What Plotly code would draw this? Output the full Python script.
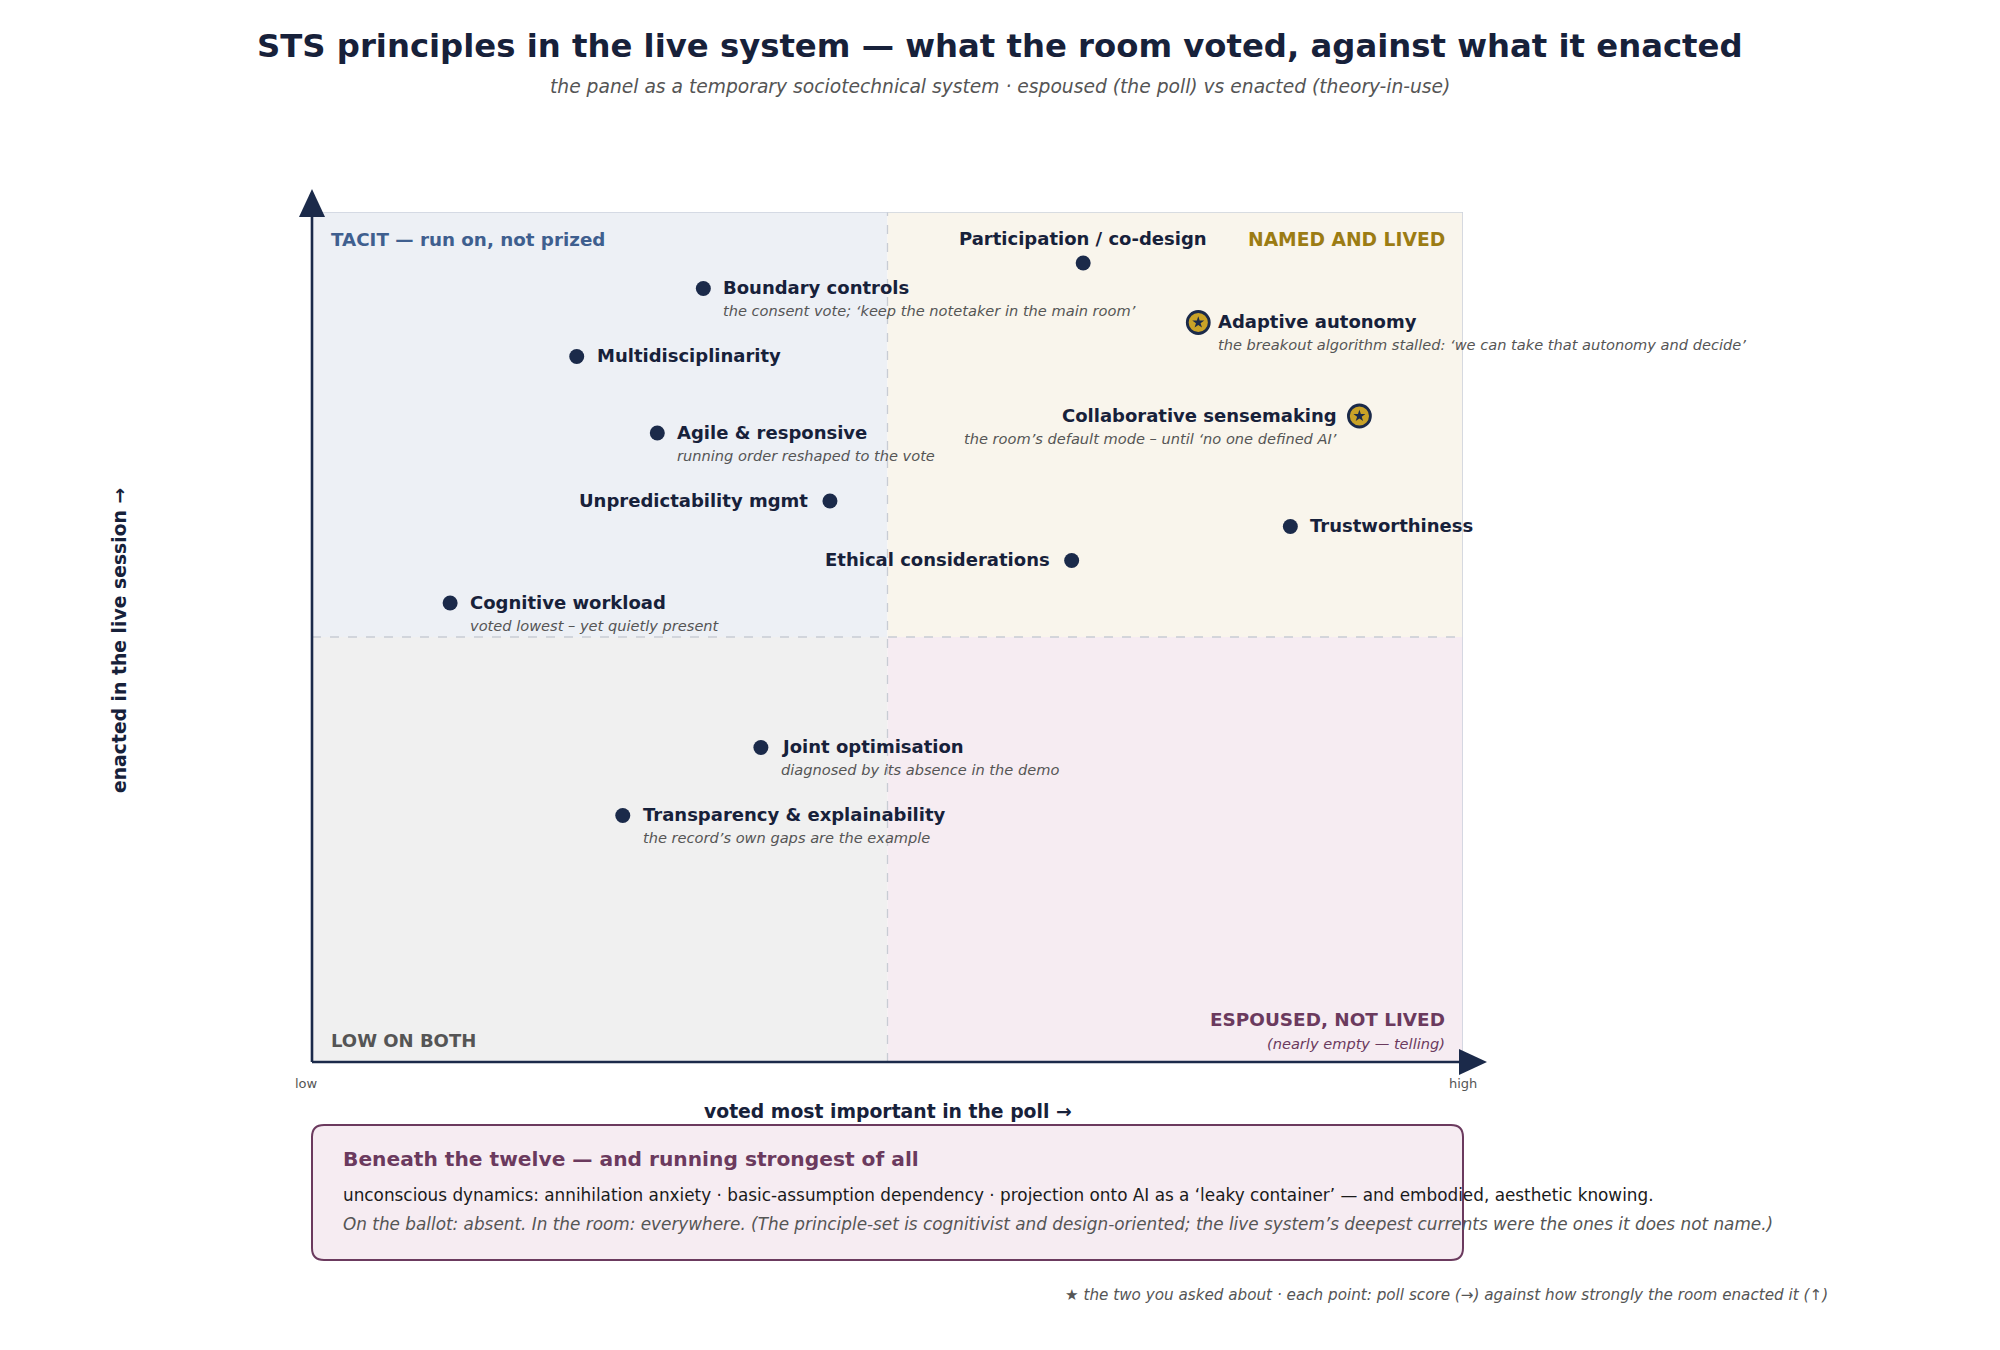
import plotly.graph_objects as go

# ---------------- data ----------------
principles = [
    "Participation / co-design", "Boundary controls", "Adaptive autonomy",
    "Multidisciplinarity", "Collaborative sensemaking", "Agile & responsive",
    "Unpredictability mgmt", "Trustworthiness", "Ethical considerations",
    "Cognitive workload", "Joint optimisation", "Transparency & explainability",
]
poll_score = [6.7, 3.4, 7.7, 2.3, 9.1, 3.0, 4.5, 8.5, 6.6, 1.2, 3.9, 2.7]
enacted_score = [9.4, 9.1, 8.7, 8.3, 7.6, 7.4, 6.6, 6.3, 5.9, 5.4, 3.7, 2.9]
notes = [
    "",
    "the consent vote; ‘keep the notetaker in the main room’",
    "the breakout algorithm stalled: ‘we can take that autonomy and decide’",
    "",
    "the room’s default mode – until ‘no one defined AI’",
    "running order reshaped to the vote",
    "",
    "",
    "",
    "voted lowest – yet quietly present",
    "diagnosed by its absence in the demo",
    "the record’s own gaps are the example",
]
label_side = ["above", "right", "right", "right", "left", "right",
              "left", "right", "left", "right", "right", "right"]
asked_about = [False, False, True, False, True, False,
               False, False, False, False, False, False]

quadrant_labels = ["TACIT — run on, not prized", "NAMED AND LIVED",
                   "LOW ON BOTH", "ESPOUSED, NOT LIVED"]
axis_end_labels = ["low", "high"]

# ---------------- style ----------------
FONT = "DejaVu Sans"
NAVY = "#1b2a4a"
INK = "#17213a"
GREY = "#555555"
GOLD = "#c9a227"
PURPLE = "#6b3a5e"

W, H = 2000, 1350
L, R, T, B = 312, 1463, 212, 1062  # plot area in px


def px_x(p):
    return (p - L) / (R - L)


def px_y(p):
    return (B - p) / (B - T)


fig = go.Figure()

# quadrant fills
quad_fill = [("#edf0f5", 0, 5, 5, 10), ("#f9f5ec", 5, 10, 5, 10),
             ("#f0f0f0", 0, 5, 0, 5), ("#f6ecf2", 5, 10, 0, 5)]
for col, x0, x1, y0, y1 in quad_fill:
    fig.add_shape(type="rect", x0=x0, x1=x1, y0=y0, y1=y1, xref="x", yref="y",
                  fillcolor=col, line=dict(width=0), layer="below")

# midlines
fig.add_shape(type="line", x0=5, x1=5, y0=0, y1=10, xref="x", yref="y",
              line=dict(color="#c8ccd4", width=1.3, dash="dash"), layer="below")
fig.add_shape(type="line", x0=0, x1=10, y0=5, y1=5, xref="x", yref="y",
              line=dict(color="#c8ccd4", width=1.3, dash="dash"), layer="below")

# top/right frame
fig.add_shape(type="line", x0=0, x1=10, y0=10, y1=10, xref="x", yref="y",
              line=dict(color="#cdd3de", width=1.6))
fig.add_shape(type="line", x0=10, x1=10, y0=0, y1=10, xref="x", yref="y",
              line=dict(color="#cdd3de", width=1.6))

# axes with arrowheads (paper coords so they are not clipped)
fig.add_shape(type="line", x0=0, x1=0, y0=0, y1=px_y(214), xref="paper", yref="paper",
              line=dict(color=NAVY, width=2.6))
fig.add_shape(type="line", x0=0, x1=px_x(1462), y0=0, y1=0, xref="paper", yref="paper",
              line=dict(color=NAVY, width=2.6))
up = (f"M {px_x(299)} {px_y(217)} L {px_x(325)} {px_y(217)} "
      f"L {px_x(312)} {px_y(189)} Z")
rt = (f"M {px_x(1459)} {px_y(1049)} L {px_x(1459)} {px_y(1075)} "
      f"L {px_x(1487)} {px_y(1062)} Z")
for p in (up, rt):
    fig.add_shape(type="path", xref="paper", yref="paper", path=p,
                  fillcolor=NAVY, line=dict(width=0))

# points
plain_x = [x for x, s in zip(poll_score, asked_about) if not s]
plain_y = [y for y, s in zip(enacted_score, asked_about) if not s]
star_x = [x for x, s in zip(poll_score, asked_about) if s]
star_y = [y for y, s in zip(enacted_score, asked_about) if s]

fig.add_trace(go.Scatter(x=plain_x, y=plain_y, mode="markers",
                         marker=dict(size=15, color=NAVY, line=dict(width=0)),
                         hoverinfo="skip"))
fig.add_trace(go.Scatter(x=star_x, y=star_y, mode="markers",
                         marker=dict(size=22, color=GOLD, line=dict(width=2.8, color=NAVY)),
                         hoverinfo="skip"))
fig.add_trace(go.Scatter(x=star_x, y=star_y, mode="markers",
                         marker=dict(size=9, color=NAVY, symbol="star", line=dict(width=0)),
                         hoverinfo="skip"))

ann = []
for name, x, y, note, side in zip(principles, poll_score, enacted_score, notes, label_side):
    if side == "above":
        ann.append(dict(x=x, y=y, xref="x", yref="y", text=name, showarrow=False,
                        xanchor="center", yanchor="middle", yshift=25,
                        font=dict(family=FONT, size=18, color=INK, weight="bold")))
        continue
    anchor = "left" if side == "right" else "right"
    shift = 18 if side == "right" else -20
    ann.append(dict(x=x, y=y, xref="x", yref="y", text=name, showarrow=False,
                    xanchor=anchor, yanchor="middle", xshift=shift, yshift=1,
                    font=dict(family=FONT, size=18, color=INK, weight="bold")))
    if note:
        ann.append(dict(x=x, y=y, xref="x", yref="y", text=note, showarrow=False,
                        xanchor=anchor, yanchor="middle", xshift=shift, yshift=-22,
                        font=dict(family=FONT, size=14.6, color=GREY, style="italic")))

# quadrant labels
qcols = ["#3f5f8f", "#9c7c14", "#555555", PURPLE]
ann.append(dict(x=0, y=10, xref="x", yref="y", text=quadrant_labels[0], showarrow=False,
                xanchor="left", yanchor="middle", xshift=17, yshift=-27,
                font=dict(family=FONT, size=18.3, color=qcols[0], weight="bold")))
ann.append(dict(x=10, y=10, xref="x", yref="y", text=quadrant_labels[1], showarrow=False,
                xanchor="right", yanchor="middle", xshift=-16, yshift=-27,
                font=dict(family=FONT, size=18.7, color=qcols[1], weight="bold")))
ann.append(dict(x=0, y=0, xref="x", yref="y", text=quadrant_labels[2], showarrow=False,
                xanchor="left", yanchor="middle", xshift=17, yshift=22,
                font=dict(family=FONT, size=18, color=qcols[2], weight="bold")))
ann.append(dict(x=10, y=0, xref="x", yref="y", text=quadrant_labels[3], showarrow=False,
                xanchor="right", yanchor="middle", xshift=-16, yshift=43,
                font=dict(family=FONT, size=18.4, color=qcols[3], weight="bold")))
ann.append(dict(x=10, y=0, xref="x", yref="y", text="(nearly empty — telling)", showarrow=False,
                xanchor="right", yanchor="middle", xshift=-16, yshift=19,
                font=dict(family=FONT, size=14.6, color=qcols[3], style="italic")))

# axis end labels and titles
ann.append(dict(x=0, y=0, xref="x", yref="y", text=axis_end_labels[0], showarrow=False,
                xanchor="center", yanchor="middle", xshift=-6, yshift=-21,
                font=dict(family=FONT, size=13, color=GREY)))
ann.append(dict(x=10, y=0, xref="x", yref="y", text=axis_end_labels[1], showarrow=False,
                xanchor="center", yanchor="middle", yshift=-21,
                font=dict(family=FONT, size=13, color=GREY)))
ann.append(dict(x=5, y=0, xref="x", yref="y", text="voted most important in the poll →",
                showarrow=False, xanchor="center", yanchor="middle", yshift=-49,
                font=dict(family=FONT, size=18.8, color=INK, weight="bold")))
ann.append(dict(x=0, y=5, xref="x", yref="y", text="enacted in the live session →",
                showarrow=False, xanchor="center", yanchor="middle", xshift=-193, yshift=-4,
                textangle=-90, font=dict(family=FONT, size=18.8, color=INK, weight="bold")))

# title / subtitle
ann.append(dict(x=px_x(1000), y=px_y(46), xref="paper", yref="paper",
                text="STS principles in the live system — what the room voted, against what it enacted",
                showarrow=False, xanchor="center", yanchor="middle",
                font=dict(family=FONT, size=32.3, color=INK, weight="bold")))
ann.append(dict(x=px_x(1000), y=px_y(86), xref="paper", yref="paper",
                text="the panel as a temporary sociotechnical system · espoused (the poll) vs enacted (theory-in-use)",
                showarrow=False, xanchor="center", yanchor="middle",
                font=dict(family=FONT, size=18.7, color=GREY, style="italic")))

# bottom box (rounded)
bx0, bx1, by0, by1, rad = 312, 1463, 1125, 1260, 12
X = px_x
Y = px_y
path = (f"M {X(bx0+rad)} {Y(by0)} L {X(bx1-rad)} {Y(by0)} Q {X(bx1)} {Y(by0)} {X(bx1)} {Y(by0+rad)} "
        f"L {X(bx1)} {Y(by1-rad)} Q {X(bx1)} {Y(by1)} {X(bx1-rad)} {Y(by1)} "
        f"L {X(bx0+rad)} {Y(by1)} Q {X(bx0)} {Y(by1)} {X(bx0)} {Y(by1-rad)} "
        f"L {X(bx0)} {Y(by0+rad)} Q {X(bx0)} {Y(by0)} {X(bx0+rad)} {Y(by0)} Z")
fig.add_shape(type="path", xref="paper", yref="paper", path=path,
              fillcolor="#f6ecf2", line=dict(color=PURPLE, width=2))

ann.append(dict(x=px_x(341), y=px_y(1159), xref="paper", yref="paper",
                text="Beneath the twelve — and running strongest of all",
                showarrow=False, xanchor="left", yanchor="middle",
                font=dict(family=FONT, size=20.2, color=PURPLE, weight="bold")))
ann.append(dict(x=px_x(341), y=px_y(1195), xref="paper", yref="paper",
                text="unconscious dynamics: annihilation anxiety · basic-assumption dependency · projection onto AI as a ‘leaky container’ — and embodied, aesthetic knowing.",
                showarrow=False, xanchor="left", yanchor="middle",
                font=dict(family=FONT, size=16.85, color="#1a1a1a")))
ann.append(dict(x=px_x(341), y=px_y(1224), xref="paper", yref="paper",
                text="On the ballot: absent. In the room: everywhere. (The principle-set is cognitivist and design-oriented; the live system’s deepest currents were the ones it does not name.)",
                showarrow=False, xanchor="left", yanchor="middle",
                font=dict(family=FONT, size=16.85, color=GREY, style="italic")))
ann.append(dict(x=px_x(1830), y=px_y(1295), xref="paper", yref="paper",
                text="★ the two you asked about · each point: poll score (→) against how strongly the room enacted it (↑)",
                showarrow=False, xanchor="right", yanchor="middle",
                font=dict(family=FONT, size=15.2, color=GREY, style="italic")))

fig.update_layout(
    width=W, height=H,
    margin=dict(l=L, r=W - R, t=T, b=H - B, pad=0),
    paper_bgcolor="white", plot_bgcolor="white",
    showlegend=False, hovermode=False,
    xaxis=dict(range=[0, 10], showgrid=False, zeroline=False, showticklabels=False,
               showline=False, ticks=""),
    yaxis=dict(range=[0, 10], showgrid=False, zeroline=False, showticklabels=False,
               showline=False, ticks=""),
    annotations=ann,
    font=dict(family=FONT),
)

fig.write_html("out.html", config={"displayModeBar": False},
               post_script="document.body.style.margin='0';")
